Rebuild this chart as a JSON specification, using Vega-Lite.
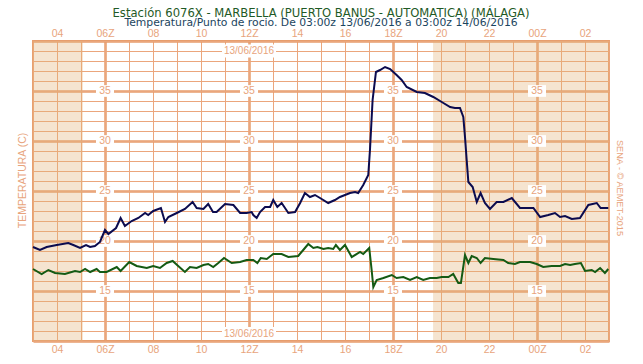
{
  "$schema": "https://vega.github.io/schema/vega-lite/v6.json",
  "width": 576,
  "height": 300,
  "autosize": {"type": "none"},
  "padding": {"left": 33, "top": 41, "right": 34, "bottom": 23},
  "background": "white",
  "config": {
    "font": "Liberation Sans",
    "view": {"stroke": "#E8A070", "strokeWidth": 2},
    "axis": {"gridColor": "#EBA67C", "tickColor": "#EBA67C", "domainColor": "#EBA67C", "gridOpacity": 1}
  },
  "title": {
    "text": "Estación 6076X - MARBELLA (PUERTO BANUS - AUTOMATICA) (MÁLAGA)",
    "subtitle": "Temperatura/Punto de rocio. De 03:00z 13/06/2016 a 03:00z 14/06/2016",
    "color": "#1F5A26",
    "subtitleColor": "#1B4560",
    "font": "DejaVu Sans",
    "subtitleFont": "DejaVu Sans",
    "fontSize": 11.6,
    "subtitleFontSize": 10.8,
    "fontWeight": "normal",
    "anchor": "middle",
    "offset": 0,
    "subtitlePadding": -2
  },
  "datasets": {
    "night": [
      {"start": 3, "end": 5.08},
      {"start": 19.67, "end": 27}
    ],
    "ylab": [
      {"h": 6, "v": [15, 20, 25, 30, 35]},
      {"h": 12, "v": [15, 20, 25, 30, 35]},
      {"h": 18, "v": [15, 20, 25, 30, 35]},
      {"h": 24, "v": [15, 20, 25, 30, 35]}
    ],
    "temp": [
      {"h":3.0,"v":19.4},{"h":3.29,"v":19.1},{"h":3.57,"v":19.4},{"h":3.99,"v":19.6},{"h":4.47,"v":19.8},{"h":4.68,"v":19.6},{"h":4.96,"v":19.3},{"h":5.21,"v":19.6},{"h":5.38,"v":19.4},{"h":5.58,"v":19.5},{"h":5.79,"v":19.9},{"h":6.0,"v":21.1},{"h":6.14,"v":20.7},{"h":6.46,"v":21.3},{"h":6.65,"v":22.3},{"h":6.83,"v":21.5},{"h":7.11,"v":22.0},{"h":7.39,"v":22.3},{"h":7.67,"v":22.8},{"h":7.8,"v":22.6},{"h":8.01,"v":23.0},{"h":8.33,"v":23.3},{"h":8.5,"v":21.9},{"h":8.64,"v":22.4},{"h":8.99,"v":22.8},{"h":9.33,"v":23.2},{"h":9.65,"v":23.9},{"h":9.82,"v":23.3},{"h":10.1,"v":23.2},{"h":10.3,"v":23.7},{"h":10.5,"v":22.9},{"h":10.65,"v":22.9},{"h":11.0,"v":23.7},{"h":11.35,"v":23.6},{"h":11.63,"v":22.8},{"h":11.9,"v":22.8},{"h":12.11,"v":22.9},{"h":12.18,"v":22.6},{"h":12.32,"v":22.3},{"h":12.46,"v":22.9},{"h":12.67,"v":23.4},{"h":12.88,"v":23.4},{"h":13.01,"v":24.1},{"h":13.18,"v":23.4},{"h":13.36,"v":23.8},{"h":13.64,"v":22.8},{"h":13.92,"v":22.9},{"h":14.13,"v":23.8},{"h":14.33,"v":24.8},{"h":14.54,"v":24.4},{"h":14.75,"v":24.6},{"h":14.96,"v":24.3},{"h":15.3,"v":23.8},{"h":15.58,"v":24.1},{"h":15.79,"v":24.4},{"h":16.21,"v":24.8},{"h":16.42,"v":24.9},{"h":16.55,"v":24.8},{"h":16.76,"v":25.6},{"h":16.97,"v":26.6},{"h":17.04,"v":29.1},{"h":17.15,"v":34.1},{"h":17.29,"v":36.9},{"h":17.46,"v":37.1},{"h":17.67,"v":37.4},{"h":17.88,"v":37.2},{"h":18.15,"v":36.6},{"h":18.36,"v":36.1},{"h":18.57,"v":35.4},{"h":18.99,"v":34.9},{"h":19.33,"v":34.8},{"h":19.68,"v":34.4},{"h":20.03,"v":33.9},{"h":20.38,"v":33.4},{"h":20.58,"v":33.3},{"h":20.79,"v":33.3},{"h":20.93,"v":32.4},{"h":21.0,"v":30.4},{"h":21.07,"v":28.1},{"h":21.14,"v":25.9},{"h":21.32,"v":25.4},{"h":21.49,"v":23.9},{"h":21.65,"v":24.8},{"h":21.83,"v":23.8},{"h":22.04,"v":23.2},{"h":22.32,"v":23.9},{"h":22.6,"v":23.9},{"h":22.95,"v":24.3},{"h":23.29,"v":23.3},{"h":23.5,"v":23.3},{"h":23.85,"v":23.3},{"h":24.13,"v":22.4},{"h":24.47,"v":22.6},{"h":24.75,"v":22.8},{"h":24.96,"v":22.4},{"h":25.17,"v":22.5},{"h":25.45,"v":22.2},{"h":25.79,"v":22.3},{"h":26.14,"v":23.6},{"h":26.49,"v":23.8},{"h":26.65,"v":23.3},{"h":26.97,"v":23.3}
    ],
    "dew": [
      {"h":3.0,"v":17.2},{"h":3.36,"v":16.7},{"h":3.64,"v":17.1},{"h":3.92,"v":16.8},{"h":4.33,"v":16.7},{"h":4.75,"v":17.0},{"h":4.96,"v":16.9},{"h":5.17,"v":17.2},{"h":5.38,"v":16.9},{"h":5.65,"v":17.2},{"h":5.79,"v":16.9},{"h":6.07,"v":16.9},{"h":6.49,"v":17.4},{"h":6.65,"v":17.0},{"h":7.01,"v":17.9},{"h":7.32,"v":17.5},{"h":7.74,"v":17.3},{"h":8.01,"v":17.5},{"h":8.29,"v":17.3},{"h":8.57,"v":17.8},{"h":8.82,"v":18.0},{"h":9.05,"v":17.5},{"h":9.33,"v":16.9},{"h":9.54,"v":17.4},{"h":9.82,"v":17.3},{"h":10.1,"v":17.6},{"h":10.3,"v":17.7},{"h":10.51,"v":17.4},{"h":10.72,"v":17.8},{"h":10.96,"v":18.3},{"h":11.28,"v":17.8},{"h":11.63,"v":17.9},{"h":11.9,"v":18.1},{"h":12.18,"v":18.1},{"h":12.35,"v":17.8},{"h":12.49,"v":18.3},{"h":12.74,"v":18.2},{"h":13.01,"v":18.7},{"h":13.36,"v":18.7},{"h":13.64,"v":18.4},{"h":14.05,"v":18.5},{"h":14.26,"v":19.1},{"h":14.47,"v":19.7},{"h":14.68,"v":19.3},{"h":14.85,"v":19.4},{"h":15.1,"v":19.2},{"h":15.3,"v":19.3},{"h":15.51,"v":19.2},{"h":15.62,"v":19.6},{"h":15.79,"v":19.1},{"h":16.0,"v":19.6},{"h":16.28,"v":18.4},{"h":16.63,"v":18.9},{"h":16.76,"v":18.7},{"h":17.01,"v":19.3},{"h":17.11,"v":17.1},{"h":17.18,"v":15.4},{"h":17.32,"v":16.1},{"h":17.6,"v":16.3},{"h":17.95,"v":16.6},{"h":18.15,"v":16.3},{"h":18.43,"v":16.4},{"h":18.71,"v":16.1},{"h":18.99,"v":16.4},{"h":19.26,"v":16.1},{"h":19.54,"v":16.3},{"h":19.82,"v":16.3},{"h":20.03,"v":16.4},{"h":20.31,"v":16.4},{"h":20.51,"v":16.7},{"h":20.72,"v":15.8},{"h":20.83,"v":15.8},{"h":21.0,"v":18.6},{"h":21.14,"v":17.8},{"h":21.28,"v":18.5},{"h":21.49,"v":18.3},{"h":21.65,"v":17.8},{"h":21.83,"v":18.3},{"h":22.18,"v":18.2},{"h":22.6,"v":18.1},{"h":22.8,"v":17.8},{"h":23.08,"v":17.7},{"h":23.29,"v":17.9},{"h":23.71,"v":17.9},{"h":23.99,"v":17.7},{"h":24.26,"v":17.4},{"h":24.61,"v":17.5},{"h":24.96,"v":17.5},{"h":25.17,"v":17.7},{"h":25.38,"v":17.6},{"h":25.58,"v":17.7},{"h":25.83,"v":17.8},{"h":26.0,"v":17.0},{"h":26.28,"v":17.1},{"h":26.42,"v":16.9},{"h":26.63,"v":17.3},{"h":26.83,"v":16.8},{"h":26.97,"v":17.2}
    ]
  },
  "resolve": {"axis": {"x": "independent", "y": "independent"}},
  "layer": [
    {
      "data": {"name": "night"},
      "mark": {"type": "rect", "color": "#E2B279", "opacity": 0.35},
      "encoding": {
        "x": {
          "field": "start",
          "type": "quantitative",
          "scale": {"domain": [3, 27], "nice": false, "zero": false},
          "axis": {
            "orient": "bottom",
            "values": [4,6,8,10,12,14,16,18,20,22,24,26],
            "grid": false,
            "ticks": false,
            "domain": false,
            "labelExpr": "((datum.value % 24) < 10 ? '0' : '') + (datum.value % 24) + (datum.value % 6 == 0 ? 'Z' : '')",
            "labelOverlap": false,
            "labelFlush": false,
            "labelColor": "#E8A47C",
            "labelFontSize": 10.5,
            "labelFont": "Liberation Sans",
            "labelPadding": 3,
            "title": null
          }
        },
        "x2": {"field": "end"}
      }
    },
    {
      "data": {"name": "ylab"},
      "transform": [{"flatten": ["v"]}],
      "mark": {"type": "point", "shape": "M-1,-0.65H1V0.65H-1Z", "filled": true, "color": "white", "opacity": 1, "size": 324, "strokeWidth": 0},
      "encoding": {
        "x": {"field": "h", "type": "quantitative", "axis": null},
        "y": {"field": "v", "type": "quantitative", "axis": null}
      }
    },
    {
      "data": {"name": "ylab"},
      "transform": [{"flatten": ["v"]}],
      "mark": {"type": "text", "color": "#E8A47C", "fontSize": 10.5, "font": "Liberation Sans", "align": "center", "baseline": "middle"},
      "encoding": {
        "x": {"field": "h", "type": "quantitative", "axis": null},
        "y": {"field": "v", "type": "quantitative", "axis": null},
        "text": {"field": "v"}
      }
    },
    {
      "data": {"values": [{}]},
      "mark": {"type": "point", "shape": "M-1,-0.24H1V0.24H-1Z", "filled": true, "color": "white", "opacity": 1, "size": 2916, "strokeWidth": 0},
      "encoding": {
        "x": {"datum": 12, "type": "quantitative", "axis": null},
        "y": {"datum": 39, "type": "quantitative", "axis": null}
      }
    },
    {
      "data": {"values": [{}]},
      "mark": {"type": "point", "shape": "M-1,-0.24H1V0.24H-1Z", "filled": true, "color": "white", "opacity": 1, "size": 2916, "strokeWidth": 0},
      "encoding": {
        "x": {"datum": 12, "type": "quantitative", "axis": null},
        "y": {"datum": 10.75, "type": "quantitative", "axis": null}
      }
    },
    {
      "data": {"values": [{}]},
      "mark": {"type": "text", "text": "13/06/2016", "color": "#E8A47C", "fontSize": 10, "font": "Liberation Sans", "align": "center", "baseline": "middle"},
      "encoding": {
        "x": {"datum": 12, "type": "quantitative", "axis": null},
        "y": {"datum": 39, "type": "quantitative", "axis": null}
      }
    },
    {
      "data": {"values": [{}]},
      "mark": {"type": "text", "text": "13/06/2016", "color": "#E8A47C", "fontSize": 10, "font": "Liberation Sans", "align": "center", "baseline": "middle"},
      "encoding": {
        "x": {"datum": 12, "type": "quantitative", "axis": null},
        "y": {"datum": 10.75, "type": "quantitative", "axis": null}
      }
    },
    {
      "data": {"name": "dew"},
      "mark": {"type": "line", "color": "#145A14", "strokeWidth": 2},
      "encoding": {
        "x": {
          "field": "h",
          "type": "quantitative",
          "axis": {
            "orient": "bottom",
            "values": [6, 12, 18, 24],
            "grid": true,
            "gridColor": "#E69C6C",
            "gridOpacity": 1,
            "gridWidth": 2.5,
            "ticks": false,
            "domain": false,
            "labels": false,
            "title": null
          }
        },
        "y": {
          "field": "v",
          "type": "quantitative",
          "axis": {
            "orient": "left",
            "values": [10, 15, 20, 25, 30, 35, 40],
            "grid": true,
            "gridColor": "#E69C6C",
            "gridOpacity": 1,
            "gridWidth": 2.5,
            "ticks": false,
            "domain": false,
            "labels": false,
            "title": null
          }
        }
      }
    },
    {
      "data": {"name": "temp"},
      "mark": {"type": "line", "color": "#0B0B4F", "strokeWidth": 2},
      "encoding": {
        "x": {
          "field": "h",
          "type": "quantitative",
          "axis": {
            "orient": "top",
            "values": [3,4,5,6,7,8,9,10,11,12,13,14,15,16,17,18,19,20,21,22,23,24,25,26,27],
            "grid": true,
            "gridColor": "#EBA67C",
            "gridOpacity": 1,
            "gridWidth": 1,
            "ticks": false,
            "domain": false,
            "labelExpr": "datum.value % 2 == 1 ? '' : ((datum.value % 24) < 10 ? '0' : '') + (datum.value % 24) + (datum.value % 6 == 0 ? 'Z' : '')",
            "labelOverlap": false,
            "labelFlush": false,
            "labelColor": "#E8A47C",
            "labelFontSize": 10.5,
            "labelFont": "Liberation Sans",
            "labelPadding": 3,
            "title": null
          }
        },
        "y": {
          "field": "v",
          "type": "quantitative",
          "scale": {"domain": [10, 40], "nice": false, "zero": false},
          "axis": {
            "orient": "left",
            "values": [10,11,12,13,14,15,16,17,18,19,20,21,22,23,24,25,26,27,28,29,30,31,32,33,34,35,36,37,38,39,40],
            "grid": true,
            "gridColor": "#EBA67C",
            "gridOpacity": 1,
            "gridWidth": 1,
            "ticks": false,
            "domain": false,
            "labels": false,
            "title": "TEMPERATURA (C)",
            "titleColor": "#E8A47C",
            "titleFont": "Liberation Sans",
            "titleFontSize": 10.5,
            "titleFontWeight": "normal",
            "titleX": -11,
            "titleY": 139,
            "titleAngle": -90,
            "titleAlign": "center",
            "titleBaseline": "middle"
          }
        }
      }
    },
    {
      "data": {"values": [{}]},
      "mark": {"type": "text", "text": "SENA - © AEMET-2015", "angle": 90, "xOffset": 11, "color": "#E8A47C", "fontSize": 9.2, "font": "Liberation Sans", "align": "center", "baseline": "middle"},
      "encoding": {
        "x": {"datum": 27, "type": "quantitative", "axis": null},
        "y": {"datum": 25.3, "type": "quantitative", "axis": null}
      }
    }
  ]
}
